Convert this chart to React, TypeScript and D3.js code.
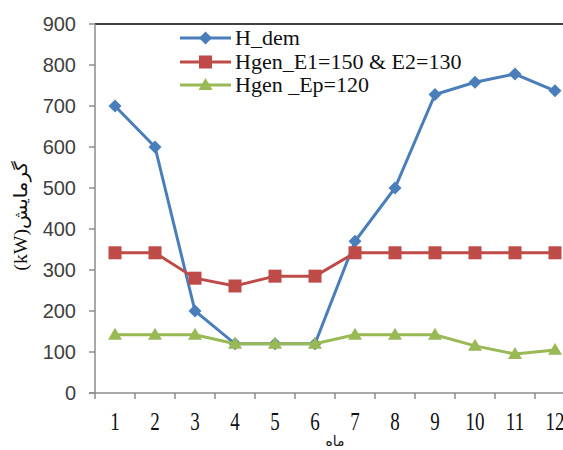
import React from "react";
import * as d3 from "d3";

const months = ["1", "2", "3", "4", "5", "6", "7", "8", "9", "10", "11", "12"];
const hDem = [700, 600, 200, 120, 120, 120, 370, 500, 728, 758, 778, 737];
const hGenE = [342, 342, 280, 261, 285, 285, 342, 342, 342, 342, 342, 342];
const hGenEp = [142, 142, 142, 120, 120, 120, 142, 142, 142, 115, 95, 105];
const yTicks = [0, 100, 200, 300, 400, 500, 600, 700, 800, 900];
const seriesNames = ["H_dem", "Hgen_E1=150 & E2=130", "Hgen _Ep=120"];
const seriesColors = ["#4A7EBB", "#BE4B48", "#98B954"];
const yTitle = "(kW)گرمایش";
const xTitle = "ماه";

const W = 563;
const H = 450;
const left = 95;
const right = 575;
const top = 24;
const bottom = 393;

export default function App() {
  const x = d3.scalePoint<string>().domain(months).range([left, right]).padding(0.5);
  const band = d3.scaleBand<string>().domain(months).range([left, right]);
  const y = d3.scaleLinear().domain([0, 900]).range([bottom, top]);
  const line = d3
    .line<number>()
    .x((_, i) => x(months[i]) as number)
    .y((d) => y(d));
  const series = [hDem, hGenE, hGenEp];

  const marker = (k: number, cx: number, cy: number, key: string) => {
    const c = seriesColors[k];
    if (k === 0) {
      const s = 6.5;
      return (
        <path
          key={key}
          d={`M${cx},${cy - s}L${cx + s},${cy}L${cx},${cy + s}L${cx - s},${cy}Z`}
          fill={c}
        />
      );
    }
    if (k === 1) {
      const s = 6.5;
      return <rect key={key} x={cx - s} y={cy - s} width={2 * s} height={2 * s} fill={c} />;
    }
    const s = 7;
    return (
      <path
        key={key}
        d={`M${cx},${cy - s}L${cx + s},${cy + s * 0.7}L${cx - s},${cy + s * 0.7}Z`}
        fill={c}
      />
    );
  };

  const legendRows = [38, 62, 85];

  return (
    <svg
      width={W}
      height={H}
      style={{ position: "absolute", left: 0, top: 0, background: "#fff" }}
    >
      <rect x={0} y={0} width={W} height={H} fill="#fff" />
      <line x1={left} x2={W} y1={top} y2={top} stroke="#404040" strokeWidth={2} />
      <line x1={left} x2={left} y1={top} y2={bottom} stroke="#8C8C8C" strokeWidth={1.5} />
      {yTicks.map((t) => (
        <g key={"yt" + t}>
          <line x1={left - 6} x2={left} y1={y(t)} y2={y(t)} stroke="#8C8C8C" strokeWidth={1.5} />
          <text
            x={76}
            y={y(t)}
            textAnchor="end"
            dominantBaseline="central"
            fontFamily="'Liberation Sans', Arial, sans-serif"
            fontSize={20}
            fill="#404040"
          >
            {t}
          </text>
        </g>
      ))}
      <line x1={left - 6} x2={W} y1={bottom} y2={bottom} stroke="#8C8C8C" strokeWidth={1.5} />
      {months.map((m) => (
        <line
          key={"xt" + m}
          x1={band(m) as number}
          x2={band(m) as number}
          y1={bottom}
          y2={bottom + 6}
          stroke="#8C8C8C"
          strokeWidth={1.5}
        />
      ))}
      {months.map((m) => (
        <text
          key={"xl" + m}
          transform={`translate(${x(m)},430) scale(1,1.35)`}
          textAnchor="middle"
          fontFamily="'Liberation Serif', 'Times New Roman', serif"
          fontSize={19}
          fill="#111"
        >
          {m}
        </text>
      ))}
      <text
        x={335}
        y={446}
        textAnchor="middle"
        fontFamily="'DejaVu Sans', sans-serif"
        fontSize={14}
        fill="#111"
      >
        {xTitle}
      </text>
      <text
        transform="translate(27,216) rotate(-90) scale(1.1,1)"
        textAnchor="middle"
        fontFamily="'Liberation Serif', 'DejaVu Sans', serif"
        fontSize={18}
        fill="#111"
      >
        {yTitle}
      </text>
      {series.map((s, k) => (
        <g key={"s" + k}>
          <path d={line(s) as string} fill="none" stroke={seriesColors[k]} strokeWidth={3} />
          {s.map((v, i) => marker(k, x(months[i]) as number, y(v), `m${k}-${i}`))}
        </g>
      ))}
      {seriesNames.map((n, k) => (
        <g key={"lg" + k}>
          <line
            x1={180}
            x2={231}
            y1={legendRows[k]}
            y2={legendRows[k]}
            stroke={seriesColors[k]}
            strokeWidth={3}
          />
          {marker(k, 205.5, legendRows[k], "lm" + k)}
          <text
            x={235}
            y={legendRows[k] + 7}
            fontFamily="'Liberation Serif', 'Times New Roman', serif"
            fontSize={22}
            fill="#111"
          >
            {n}
          </text>
        </g>
      ))}
    </svg>
  );
}
